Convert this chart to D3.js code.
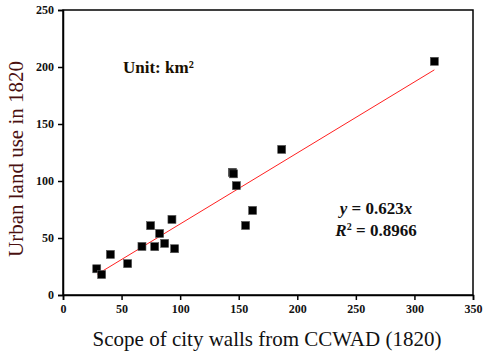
<!DOCTYPE html>
<html>
<head>
<meta charset="utf-8">
<script src="https://cdn.jsdelivr.net/npm/d3@7"></script>
<style>
  body { margin: 0; background: #fff; }
  text { font-family: "Liberation Serif", "Times New Roman", serif; }
</style>
</head>
<body>
<div id="chart"></div>
<script>
((exports) => {
    // readings from the picture
    let wallArea = [28.8, 33, 40.5, 55.2, 67.4, 74.8, 78.3, 82.5, 86.8, 93, 95.3, 144.6, 145.6, 148, 155.9, 161.9, 186.7, 317],
        landUse  = [23, 18, 35.6, 27.5, 42.6, 60.8, 42.4, 54, 45.3, 66.3, 40.6, 107.6, 106.3, 95.9, 61, 74.2, 127.7, 205],
        xTicks = [0, 50, 100, 150, 200, 250, 300, 350],
        yTicks = [0, 50, 100, 150, 200, 250],
        slope = 0.623,
        fitRange = [29, 317]

    let width = 490, height = 356,
        left = 63, right = 473, top = 10, bottom = 295

    let svg = d3.select("div#chart").append("svg")
        .attr("width", width)
        .attr("height", height)

    let x = d3.scaleLinear().domain([0, 350]).range([left, right]),
        y = d3.scaleLinear().domain([0, 250]).range([bottom, top])

    // frame
    svg.append("rect")
        .attr("x", left).attr("y", top)
        .attr("width", right - left).attr("height", bottom - top)
        .attr("fill", "none").attr("stroke", "#000").attr("stroke-width", 1.5)

    let xAxis = svg.append("g")
        .attr("transform", `translate(0,${bottom})`)
        .call(d3.axisBottom(x).tickValues(xTicks).tickSize(5).tickPadding(4))
    let yAxis = svg.append("g")
        .attr("transform", `translate(${left},0)`)
        .call(d3.axisLeft(y).tickValues(yTicks).tickSize(5).tickPadding(4))

    for (let ax of [xAxis, yAxis]) {
        ax.select(".domain").attr("stroke-width", 1.5)
        ax.selectAll(".tick line").attr("stroke-width", 1.5)
        ax.selectAll(".tick text")
            .attr("font-size", 12)
            .attr("font-weight", "bold")
            .attr("fill", "#111")
    }

    // fit line
    svg.append("line")
        .attr("x1", x(fitRange[0])).attr("y1", y(slope * fitRange[0]))
        .attr("x2", x(fitRange[1])).attr("y2", y(slope * fitRange[1]))
        .attr("stroke", "#ff2020").attr("stroke-width", 1)

    // points
    svg.selectAll("rect.pt")
        .data(d3.zip(wallArea, landUse))
        .enter().append("rect")
        .attr("class", "pt")
        .attr("x", d => x(d[0]) - 4)
        .attr("y", d => y(d[1]) - 4)
        .attr("width", 8).attr("height", 8)
        .attr("fill", "#000")
        .attr("stroke", "#555").attr("stroke-width", 0.6)

    // labels
    svg.append("text")
        .attr("x", 267).attr("y", 346)
        .attr("text-anchor", "middle")
        .attr("font-size", 21)
        .attr("fill", "#111")
        .text("Scope of city walls from CCWAD (1820)")

    svg.append("text")
        .attr("transform", "translate(23,159) rotate(-90)")
        .attr("text-anchor", "middle")
        .attr("font-size", 21)
        .attr("fill", "#4a1010")
        .text("Urban land use in 1820")

    svg.append("text")
        .attr("x", 123).attr("y", 73)
        .attr("font-size", 17)
        .attr("font-weight", "bold")
        .attr("fill", "#1a1000")
        .text("Unit: km²")

    let eq = svg.append("text")
        .attr("x", 376).attr("y", 214)
        .attr("text-anchor", "middle")
        .attr("font-size", 17)
        .attr("font-weight", "bold")
        .attr("fill", "#111")
    eq.append("tspan").attr("font-style", "italic").text("y")
    eq.append("tspan").text(" = 0.623")
    eq.append("tspan").attr("font-style", "italic").text("x")

    let r2 = svg.append("text")
        .attr("x", 376).attr("y", 236)
        .attr("text-anchor", "middle")
        .attr("font-size", 17)
        .attr("font-weight", "bold")
        .attr("fill", "#111")
    r2.append("tspan").attr("font-style", "italic").text("R")
    r2.append("tspan").attr("font-size", 10).attr("dy", -6).text("2")
    r2.append("tspan").attr("dy", 6).text(" = 0.8966")
})(window);
</script>
</body>
</html>
